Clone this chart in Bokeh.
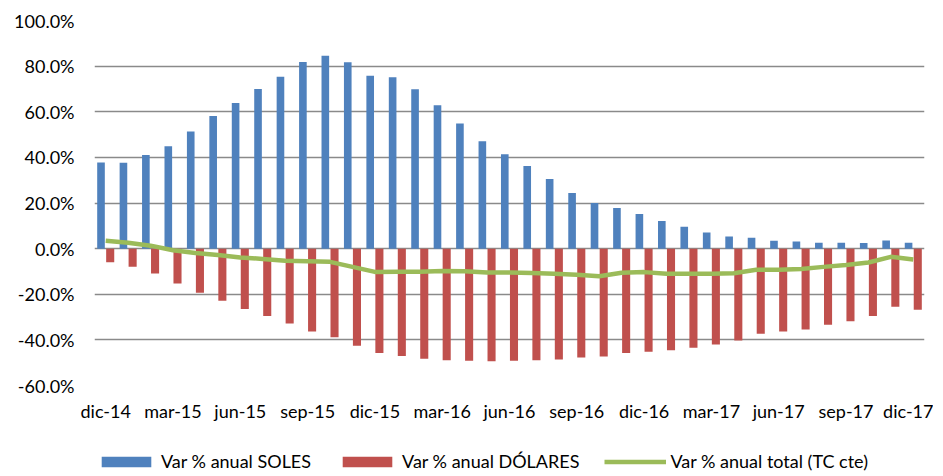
from bokeh.plotting import figure
from bokeh.layouts import column
from bokeh.models import ColumnDataSource, FixedTicker, PrintfTickFormatter, Legend, LegendItem
from bokeh.transform import dodge
from bokeh.embed import file_html
from bokeh.resources import INLINE

months = ["dic-14", "ene-15", "feb-15", "mar-15", "abr-15", "may-15", "jun-15", "jul-15",
          "ago-15", "sep-15", "oct-15", "nov-15", "dic-15", "ene-16", "feb-16", "mar-16",
          "abr-16", "may-16", "jun-16", "jul-16", "ago-16", "sep-16", "oct-16", "nov-16",
          "dic-16", "ene-17", "feb-17", "mar-17", "abr-17", "may-17", "jun-17", "jul-17",
          "ago-17", "sep-17", "oct-17", "nov-17", "dic-17"]

soles = [37.8, 37.6, 41.0, 44.9, 51.3, 58.1, 63.8, 70.0, 75.3, 81.8, 84.5, 81.7, 75.8,
         75.1, 69.9, 62.9, 54.8, 47.1, 41.4, 36.2, 30.5, 24.4, 20.0, 17.8, 15.2, 12.1,
         9.6, 7.1, 5.3, 4.8, 3.5, 3.1, 2.6, 2.6, 2.5, 3.6, 2.6]

dolares = [-6.0, -7.9, -10.9, -15.3, -19.3, -22.9, -26.5, -29.5, -32.8, -36.3, -38.8,
           -42.6, -45.8, -47.1, -48.3, -48.9, -49.1, -49.4, -49.2, -48.9, -48.6, -47.7,
           -47.3, -45.7, -45.2, -44.5, -43.5, -42.0, -40.3, -37.3, -36.3, -35.4, -33.4,
           -31.8, -29.5, -25.5, -26.8]

total = [3.5, 2.6, 1.3, -0.7, -1.9, -2.8, -3.9, -4.5, -5.3, -5.5, -5.8, -8.0, -10.2,
         -10.1, -10.1, -9.8, -9.9, -10.5, -10.5, -10.7, -11.0, -11.4, -12.1, -10.6,
         -10.3, -11.0, -11.0, -11.0, -10.8, -9.3, -9.3, -8.9, -8.0, -7.2, -6.1, -3.6, -4.8]

series_names = ["Var % anual SOLES", "Var % anual DÓLARES", "Var % anual total (TC cte)"]
y_ticks = [-60, -40, -20, 0, 20, 40, 60, 80, 100]
x_tick_idx = list(range(0, len(months), 3))

FONT = "Lato"
C_SOL, C_DOL, C_TOT = "#4F81BD", "#C0504D", "#9BBB59"

src = ColumnDataSource(dict(i=list(range(len(months))), month=months,
                            soles=soles, dolares=dolares, total=total))

# ---- main chart ----
p = figure(width=933, height=424, x_range=(-0.5, len(months) - 0.5),
           y_range=(-60, 100), output_backend="svg", toolbar_location=None,
           min_border_left=94, min_border_right=9, min_border_top=20, min_border_bottom=38)

p.vbar(x=dodge("i", -0.21), top="soles", bottom=0, width=0.34, source=src,
       fill_color=C_SOL, line_color=None)
p.vbar(x=dodge("i", 0.2), top="dolares", bottom=0, width=0.36, source=src,
       fill_color=C_DOL, line_color=None)
p.line("i", "total", source=src, line_color=C_TOT, line_width=4.5, line_join="round")

p.outline_line_color = None
p.xgrid.grid_line_color = None
p.ygrid.grid_line_color = "#8a8a8a"
p.ygrid.grid_line_width = 1.5
p.ygrid.ticker = FixedTicker(ticks=y_ticks)

p.yaxis.ticker = FixedTicker(ticks=y_ticks)
p.yaxis.formatter = PrintfTickFormatter(format="%.1f%%")
p.xaxis.ticker = FixedTicker(ticks=x_tick_idx)
p.xaxis.major_label_overrides = {i: months[i] for i in x_tick_idx}

for ax in (p.xaxis[0], p.yaxis[0]):
    ax.axis_line_color = None
    ax.major_tick_line_color = None
    ax.minor_tick_line_color = None
    ax.major_tick_out = 0
    ax.major_tick_in = 0
    ax.minor_tick_out = 0
    ax.minor_tick_in = 0
    ax.major_label_text_font = FONT
    ax.major_label_text_font_size = "18px"
    ax.major_label_text_color = "#000000"
p.yaxis.major_label_standoff = 20
p.xaxis.major_label_standoff = 14

# ---- legend strip: same series, ranges set so only the key swatches show ----
pl = figure(width=933, height=48, x_range=(1000, 1001), y_range=(1000, 1001),
            x_axis_type=None, y_axis_type=None, output_backend="svg",
            toolbar_location=None, min_border=0)
pl.outline_line_color = None
pl.grid.visible = False
k_sol = pl.vbar(x="i", top="soles", bottom=0, width=0.34, source=src,
                fill_color=C_SOL, line_color=None)
k_dol = pl.vbar(x="i", top="dolares", bottom=0, width=0.36, source=src,
                fill_color=C_DOL, line_color=None)
k_tot = pl.line("i", "total", source=src, line_color=C_TOT, line_width=4.5)

legend = Legend(items=[LegendItem(label=series_names[0], renderers=[k_sol]),
                       LegendItem(label=series_names[1], renderers=[k_dol]),
                       LegendItem(label=series_names[2], renderers=[k_tot])],
                orientation="horizontal", location=(1, 0),
                border_line_color=None, background_fill_alpha=0,
                label_text_font=FONT, label_text_font_size="18px",
                label_text_color="#000000",
                glyph_width=62, glyph_height=13, label_standoff=4, spacing=25,
                padding=0, margin=0)
pl.add_layout(legend)

layout = column(p, pl, spacing=0)

open("out.html", "w").write(file_html(layout, INLINE))
